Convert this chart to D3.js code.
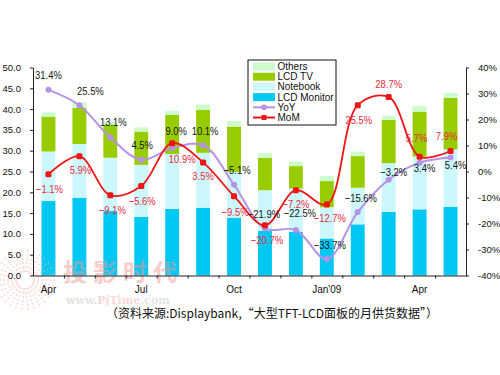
<!DOCTYPE html>
<html>
<head>
<meta charset="utf-8">
<script src="https://cdn.jsdelivr.net/npm/d3@7"></script>
<style>
  body { margin: 0; background: #fff; }
  svg { display: block; font-family: "Liberation Sans", Arial, sans-serif; }
</style>
</head>
<body>
<script>
/* data (units: million panels / percent) */
const months = ['2008-04', '2008-05', '2008-06', '2008-07', '2008-08', '2008-09', '2008-10',
  '2008-11', '2008-12', '2009-01', '2009-02', '2009-03', '2009-04', '2009-05'];
const monthLabels = ['Apr', '', '', 'Jul', '', '', 'Oct', '', '', "Jan'09", '', '', 'Apr', ''];
const lcdMonitor = [17.9, 18.7, 15.5, 14.1, 16.0, 16.3, 13.9, 10.7, 10.5, 8.9, 12.3, 15.3, 15.9, 16.5];
const notebook = [11.9, 12.9, 12.8, 12.5, 13.2, 13.2, 11.0, 9.8, 10.4, 7.5, 8.8, 11.7, 12.7, 13.8];
const lcdTV = [8.4, 8.7, 7.9, 8.0, 9.4, 10.3, 10.9, 7.8, 5.4, 6.3, 7.6, 10.4, 10.8, 12.4];
const others = [1.0, 1.3, 0.8, 1.0, 1.0, 1.3, 1.3, 1.1, 1.1, 1.2, 1.1, 1.0, 1.3, 1.2];
const yoy = [31.4, 25.5, 13.1, 4.5, 9.0, 10.1, -5.1, -21.9, -22.5, -33.7, -15.6, -3.2, 3.4, 5.4];
const mom = [-1.1, 5.9, -9.1, -5.6, 10.9, 3.5, -9.5, -20.7, -7.2, -12.7, 25.5, 28.7, 5.7, 7.9];
const leftTicks = d3.range(0, 50.01, 5);
const rightTicks = d3.range(-40, 40.01, 10);
const caption = '（资料来源:Displaybank,“大型TFT-LCD面板的月供货数据”）';

/* label nudges in px (layout only) */
const yoyLabelPos = [[0, -15], [11, -15], [3, -16], [1, -15], [4, -17], [2, -15], [3, -15],
  [-1, -15], [4, -17], [3, -14], [3, -14], [5, -8], [5, 5], [5, 7]];
const momLabelPos = [[1, 14], [1, 13], [2, 14], [1, 15], [10, 15], [0, 13], [1, 15],
  [2, 14], [0, 13], [3, 13], [1, 14], [0, -13], [-3, -19], [-4, -15]];

const W = 500, H = 375;
const plot = { left: 33, right: 466, top: 67.5, bottom: 275.5 };

const colors = {
  monitor: '#00c8f2', notebook: '#ccf8fd', tv: '#99cc00', others: '#ccfccc',
  yoy: '#b691e6', mom: '#ee1515', momText: '#e8283a'
};

const svg = d3.select('body').append('svg')
  .attr('width', W)
  .attr('height', H);

svg.append('rect').attr('width', W).attr('height', H).attr('fill', '#fff');

/* scales */
const x = d3.scaleBand()
  .domain(months)
  .range([plot.left, plot.right])
  .paddingInner(0.55)
  .paddingOuter(0.275);
const xIdx = d3.scaleLinear().domain([0, months.length]).range([plot.left, plot.right]);
const yL = d3.scaleLinear().domain([0, 50]).range([plot.bottom, plot.top]);
const yR = d3.scaleLinear().domain([-40, 40]).range([plot.bottom, plot.top]);
const cx = i => x(months[i]) + x.bandwidth() / 2;

/* stacked bars */
const rows = months.map((m, i) => ({
  month: m, monitor: lcdMonitor[i], notebook: notebook[i], tv: lcdTV[i], others: others[i]
}));
const keys = ['monitor', 'notebook', 'tv', 'others'];
const stacked = d3.stack().keys(keys)(rows);

svg.append('g')
  .selectAll('g')
  .data(stacked)
  .join('g')
  .attr('fill', d => colors[d.key])
  .selectAll('rect')
  .data(d => d)
  .join('rect')
  .attr('x', d => x(d.data.month))
  .attr('width', x.bandwidth())
  .attr('y', d => yL(d[1]))
  .attr('height', d => yL(d[0]) - yL(d[1]));

/* watermark (drawn under the axes text) */
const wm = svg.append('g').attr('pointer-events', 'none').attr('opacity', 0.5);
wm.selectAll('line')
  .data(d3.range(0, 360, 12))
  .join('line')
  .attr('x1', d => 25 + 8 * Math.cos(d * Math.PI / 180))
  .attr('y1', d => 280 + 8 * Math.sin(d * Math.PI / 180))
  .attr('x2', d => 25 + 30 * Math.cos(d * Math.PI / 180))
  .attr('y2', d => 280 + 30 * Math.sin(d * Math.PI / 180))
  .attr('stroke', '#f4b4b4')
  .attr('stroke-width', 1.5)
  .attr('stroke-dasharray', '2,2');
wm.append('text')
  .attr('x', 63).attr('y', 281)
  .attr('font-family', '"Noto Sans CJK SC", sans-serif')
  .attr('font-size', '24px').attr('font-weight', 'bold')
  .attr('letter-spacing', '6px')
  .attr('fill', '#f09a9a')
  .text('投影时代');
wm.append('text')
  .attr('x', 66).attr('y', 304)
  .attr('font-family', '"DejaVu Serif", serif')
  .attr('font-size', '11px').attr('font-weight', 'bold')
  .attr('fill', '#c8c8c8')
  .text('www.')
  .append('tspan').attr('fill', '#f2b0b0').text('PjTime')
  .append('tspan').attr('fill', '#c8c8c8').text('.com');

/* axes */
const axisStyle = g => {
  g.selectAll('path, line').attr('stroke', '#222');
  g.selectAll('text').attr('fill', '#111').attr('font-size', '9.5px');
};

svg.append('g')
  .attr('transform', `translate(${plot.left},0)`)
  .call(d3.axisLeft(yL).tickValues(leftTicks).tickFormat(d3.format('.1f')).tickSize(3).tickSizeOuter(0).tickPadding(9))
  .call(axisStyle);

svg.append('g')
  .attr('transform', `translate(${plot.right},0)`)
  .call(d3.axisRight(yR).tickValues(rightTicks).tickFormat(d => d + '%').tickSize(3).tickSizeOuter(0).tickPadding(9))
  .call(axisStyle);

svg.append('g')
  .attr('transform', `translate(0,${plot.bottom})`)
  .call(d3.axisBottom(xIdx).tickValues(d3.range(1, months.length)).tickFormat('').tickSize(3).tickSizeOuter(0))
  .call(axisStyle);

svg.append('g')
  .attr('transform', `translate(0,${plot.bottom})`)
  .call(d3.axisBottom(x).tickFormat((d, i) => monthLabels[i]).tickSize(0).tickPadding(10))
  .call(g => g.select('.domain').remove())
  .call(axisStyle)
  .call(g => g.selectAll('text').attr('font-size', '10px'));

/* lines */
const curve = d3.curveCatmullRom.alpha(0.5);
const yoyLine = d3.line().x((d, i) => cx(i)).y(d => yR(d)).curve(curve);
const momLine = d3.line().x((d, i) => cx(i)).y(d => yR(d)).curve(curve);

svg.append('path')
  .datum(yoy)
  .attr('d', yoyLine)
  .attr('fill', 'none')
  .attr('stroke', colors.yoy)
  .attr('stroke-width', 2);
svg.append('g')
  .selectAll('circle')
  .data(yoy)
  .join('circle')
  .attr('cx', (d, i) => cx(i))
  .attr('cy', d => yR(d))
  .attr('r', 3)
  .attr('fill', colors.yoy);

svg.append('path')
  .datum(mom)
  .attr('d', momLine)
  .attr('fill', 'none')
  .attr('stroke', colors.mom)
  .attr('stroke-width', 1.8);
svg.append('g')
  .selectAll('rect')
  .data(mom)
  .join('rect')
  .attr('x', (d, i) => cx(i) - 3)
  .attr('y', d => yR(d) - 3)
  .attr('width', 6)
  .attr('height', 6)
  .attr('rx', 1.5)
  .attr('fill', colors.mom);

/* value labels (slightly condensed like the original) */
const pct = d3.format('.1f');
const labelText = (sel, values, pos, fill) => sel
  .selectAll('text')
  .data(values)
  .join('text')
  .attr('transform', (d, i) => `translate(${cx(i) + pos[i][0]},${yR(d) + pos[i][1]}) scale(0.82,1)`)
  .attr('text-anchor', 'middle')
  .attr('dominant-baseline', 'central')
  .attr('font-size', '11.5px')
  .attr('fill', fill)
  .text(d => pct(d) + '%');

svg.append('g').call(labelText, yoy, yoyLabelPos, '#151515');
svg.append('g').call(labelText, mom, momLabelPos, colors.momText);

/* legend */
const legendItems = [
  { name: 'Others', type: 'bar', color: colors.others },
  { name: 'LCD TV', type: 'bar', color: colors.tv },
  { name: 'Notebook', type: 'bar', color: colors.notebook },
  { name: 'LCD Monitor', type: 'bar', color: colors.monitor },
  { name: 'YoY', type: 'line', color: colors.yoy },
  { name: 'MoM', type: 'line', color: colors.mom }
];
const legend = svg.append('g').attr('transform', 'translate(248,60)');
legend.append('rect')
  .attr('width', 88).attr('height', 65)
  .attr('fill', '#fff').attr('stroke', '#111').attr('stroke-width', 1);
const item = legend.selectAll('g.item')
  .data(legendItems)
  .join('g')
  .attr('class', 'item')
  .attr('transform', (d, i) => `translate(0,${6.5 + i * 10.2})`);
item.filter(d => d.type === 'bar').append('rect')
  .attr('x', 5).attr('y', -4).attr('width', 22).attr('height', 8)
  .attr('fill', d => d.color);
item.filter(d => d.type === 'line').append('line')
  .attr('x1', 5).attr('x2', 27)
  .attr('stroke', d => d.color).attr('stroke-width', 2);
item.filter(d => d.name === 'YoY').append('circle')
  .attr('cx', 16).attr('r', 2.8).attr('fill', d => d.color);
item.filter(d => d.name === 'MoM').append('rect')
  .attr('x', 13.5).attr('y', -2.5).attr('width', 5).attr('height', 5).attr('fill', d => d.color);
item.append('text')
  .attr('x', 29.5).attr('dy', '0.35em')
  .attr('font-size', '10px').attr('fill', '#111')
  .text(d => d.name);

/* source caption */
svg.append('text')
  .attr('x', 272).attr('y', 318)
  .attr('text-anchor', 'middle')
  .attr('font-family', '"Noto Sans CJK SC", sans-serif')
  .attr('font-size', '12px')
  .attr('fill', '#111')
  .text(caption);
</script>
</body>
</html>
